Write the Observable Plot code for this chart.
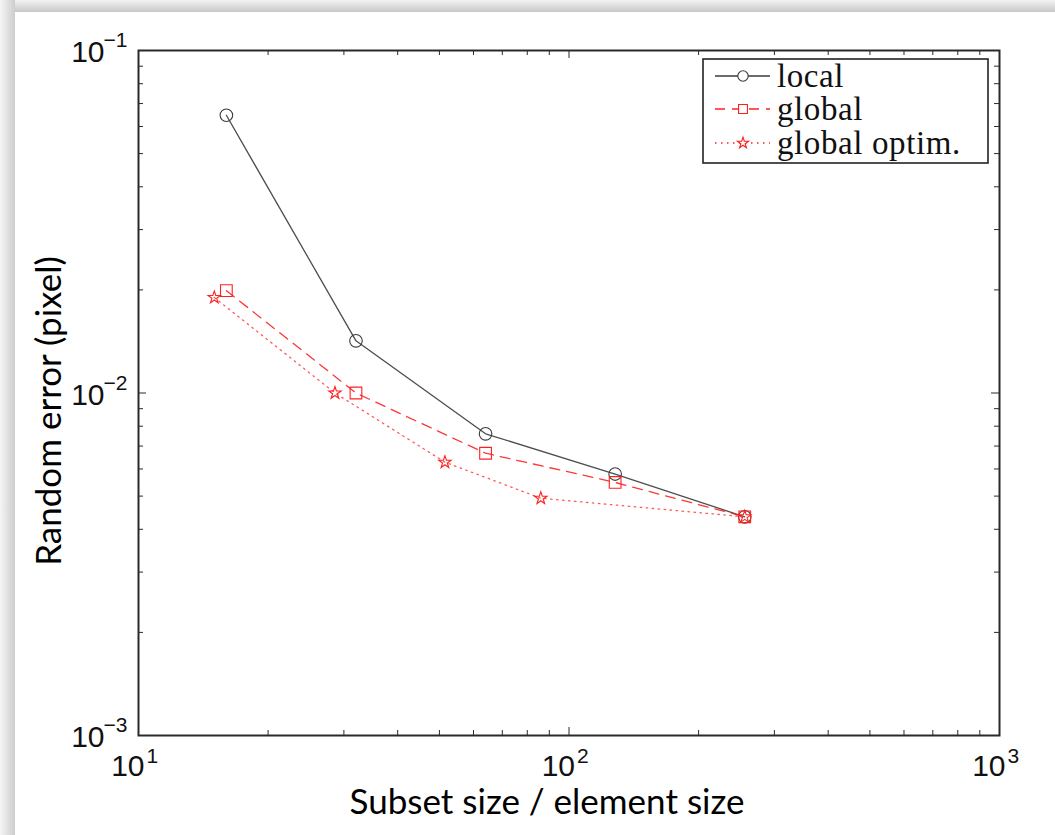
<!DOCTYPE html>
<html><head><meta charset="utf-8">
<script src="https://cdn.jsdelivr.net/npm/d3@7"></script>
<script src="https://cdn.jsdelivr.net/npm/@observablehq/plot@0.6"></script>
<style>
body{margin:0;background:#fff;}
#wrap{position:relative;width:1055px;height:835px;overflow:hidden;background:#fff;}
#top{position:absolute;left:0;top:0;width:1055px;height:12px;background:linear-gradient(#f3f3f3,#c8c8c8);}
#left{position:absolute;left:0;top:0;width:15px;height:835px;background:linear-gradient(to right,#f5f5f5,#cdcdcd);}
#chart{position:absolute;left:0;top:0;}
</style></head><body>
<div id="wrap"><div id="top"></div><div id="left"></div><div id="chart"></div></div>
<script>
// ---- data ----
const subsetLocal  = [16, 32, 64, 128, 256];
const errLocal     = [0.0647, 0.0142, 0.0076, 0.0058, 0.00435];
const subsetGlobal = [16, 32, 64, 128, 256];
const errGlobal    = [0.0199, 0.0100, 0.00667, 0.00548, 0.00435];
const subsetOptim  = [15, 28.6, 51.5, 86, 256];
const errOptim     = [0.0190, 0.0100, 0.00628, 0.00493, 0.00435];
const seriesNames  = ["local", "global", "global optim."];

const xMajor = [10, 100, 1000];
const xExp   = ["1", "2", "3"];
const xMinor = [20,30,40,50,60,70,80,90,200,300,400,500,600,700,800,900];
const yMajor = [0.001, 0.01, 0.1];
const yExp   = ["\u22123", "\u22122", "\u22121"];
const yMinor = [0.002,0.003,0.004,0.005,0.006,0.007,0.008,0.009,0.02,0.03,0.04,0.05,0.06,0.07,0.08,0.09];
const xLabel = "Subset size / element size";
const yLabel = "Random error (pixel)";

// ---- layout ----
const W = 1055, H = 835, mL = 138, mR = 56, mT = 50, mB = 100;
const iW = W - mL - mR, iH = H - mT - mB;
const axisCol = "#2a2a2a";
const sansTick = "'Liberation Sans', Arial, Helvetica, sans-serif";
const sansLab = "Lato, 'Open Sans', sans-serif";
const cLocal = "#3a3a3a", cRed = "#ff2020";
const styles = [
  {stroke: cLocal, dash: null, symbol: "circle", r: 6.3, lr: 5.2, sw: 1.3},
  {stroke: cRed, dash: "10,7", symbol: "square", r: 6.6, lr: 5.0, sw: 1.3},
  {stroke: cRed, dash: "1.5,4.5", symbol: "star", r: 3.9, lr: 3.5, sw: 1.3}
];

const toRows = (xs, ys) => xs.map((x, i) => ({x, y: ys[i]}));
const sets = [toRows(subsetLocal, errLocal), toRows(subsetGlobal, errGlobal), toRows(subsetOptim, errOptim)];

const seriesMarks = [];
sets.forEach((data, k) => {
  const s = styles[k];
  seriesMarks.push(Plot.line(data, {x: "x", y: "y", stroke: s.stroke, strokeWidth: s.sw, strokeDasharray: s.dash, strokeOpacity: k === 2 ? 0.75 : 0.9}));
});
sets.forEach((data, k) => {
  const s = styles[k];
  seriesMarks.push(Plot.dot(data, {x: "x", y: "y", symbol: s.symbol, r: s.r, stroke: s.stroke, fill: "none", strokeWidth: 1.1}));
});

const chart = Plot.plot({
  width: W, height: H,
  marginLeft: mL, marginRight: mR, marginTop: mT, marginBottom: mB,
  style: {background: "transparent", overflow: "visible"},
  x: {type: "log", domain: [10, 1000], axis: null},
  y: {type: "log", domain: [0.001, 0.1], axis: null},
  marks: [
    // inward ticks, all four sides
    Plot.tickX(xMajor, {x: d => d, insetTop: iH - 8, stroke: axisCol}),
    Plot.tickX(xMajor, {x: d => d, insetBottom: iH - 8, stroke: axisCol}),
    Plot.tickX(xMinor, {x: d => d, insetTop: iH - 5, stroke: axisCol}),
    Plot.tickX(xMinor, {x: d => d, insetBottom: iH - 5, stroke: axisCol}),
    Plot.tickY(yMajor, {y: d => d, insetRight: iW - 8, stroke: axisCol}),
    Plot.tickY(yMajor, {y: d => d, insetLeft: iW - 8, stroke: axisCol}),
    Plot.tickY(yMinor, {y: d => d, insetRight: iW - 5, stroke: axisCol}),
    Plot.tickY(yMinor, {y: d => d, insetLeft: iW - 5, stroke: axisCol}),
    ...seriesMarks,
    Plot.frame({stroke: axisCol, strokeWidth: 2}),
    // tick labels 10^n
    Plot.text(xMajor, {x: d => d, frameAnchor: "bottom", text: () => "10", textAnchor: "end", dx: 6, dy: 40, fontSize: 30, fontFamily: sansTick, fill: "#111"}),
    Plot.text(xMajor, {x: d => d, frameAnchor: "bottom", text: (d, i) => xExp[i], textAnchor: "start", dx: 8, dy: 27, fontSize: 21, fontFamily: sansTick, fill: "#111"}),
    Plot.text(yMajor, {y: d => d, frameAnchor: "left", text: () => "10", textAnchor: "end", dx: -34, dy: 2, fontSize: 30, fontFamily: sansTick, fill: "#111"}),
    Plot.text(yMajor, {y: d => d, frameAnchor: "left", text: (d, i) => yExp[i], textAnchor: "end", dx: -11, dy: -10, fontSize: 21, fontFamily: sansTick, fill: "#111"}),
    // axis labels
    Plot.text([xLabel], {frameAnchor: "bottom", text: d => d, textAnchor: "middle", dx: -22, dy: 78, fontSize: 35, fontFamily: sansLab, fill: "#000"}),
    Plot.text([yLabel], {frameAnchor: "left", text: d => d, textAnchor: "middle", dx: -89, dy: 18, rotate: -90, fontSize: 35, fontFamily: sansLab, fill: "#000"})
  ]
});
document.getElementById("chart").appendChild(chart);

// ---- legend (inside the axes, top right) ----
const svg = d3.select(chart);
const lg = svg.append("g").attr("transform", "translate(703,59)");
lg.append("rect").attr("width", 285).attr("height", 104).attr("fill", "#fff").attr("stroke", "#222").attr("stroke-width", 1.6);
const rowY = [17, 50, 84];
seriesNames.forEach((name, k) => {
  const s = styles[k];
  const g = lg.append("g").attr("transform", `translate(0,${rowY[k]})`);
  g.append("line").attr("x1", 12).attr("x2", 67).attr("y1", 0).attr("y2", 0)
    .attr("stroke", s.stroke).attr("stroke-width", s.sw).attr("stroke-dasharray", s.dash);
  const sym = {circle: d3.symbolCircle, square: d3.symbolSquare, star: d3.symbolStar}[s.symbol];
  g.append("path").attr("transform", "translate(40,0)").attr("d", d3.symbol(sym, Math.PI * s.lr * s.lr)())
    .attr("fill", "#fff").attr("stroke", s.stroke).attr("stroke-width", 1.1);
  g.append("text").attr("x", 74).attr("y", 11).attr("text-anchor", "start")
    .attr("font-family", "'Liberation Serif', 'DejaVu Serif', serif")
    .attr("letter-spacing", 0.6)
    .attr("font-size", 33).attr("fill", "#111").text(name);
});
</script>
</body></html>
